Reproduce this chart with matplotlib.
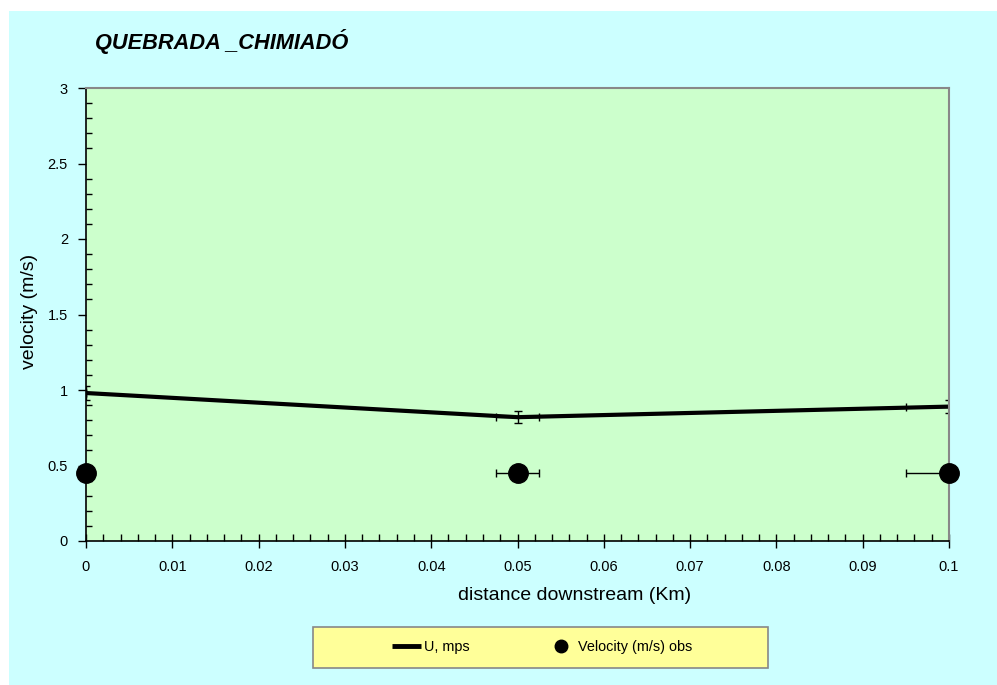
import matplotlib.pyplot as plt
from matplotlib.patches import Rectangle
from matplotlib.ticker import MultipleLocator

plt.rcParams['font.family'] = ['Liberation Sans', 'DejaVu Sans']

# model velocity along the reach
dist_model = [0.0, 0.05, 0.1]
u_model = [0.98, 0.82, 0.89]

# observed velocities
dist_obs = [0.0, 0.05, 0.1]
u_obs = [0.45, 0.45, 0.45]

# 5% error on distance and velocity
xerr_model = [0.05 * d for d in dist_model]
yerr_model = [0.05 * u for u in u_model]
xerr_obs = [0.05 * d for d in dist_obs]
yerr_obs = [0.05 * u for u in u_obs]

W, H = 997, 685
fig = plt.figure(figsize=(W / 100, H / 100), dpi=100)
fig.patch.set_facecolor('white')
fig.patches.append(Rectangle((9 / W, 0), 1, 1 - 11 / H, transform=fig.transFigure,
                             facecolor='#CCFFFF', edgecolor='none', zorder=-10))

ax = fig.add_axes([86 / W, 1 - 541 / H, (949 - 86) / W, (541 - 88) / H])
ax.set_facecolor('#CCFFCC')

ax.errorbar(dist_model, u_model, xerr=xerr_model, yerr=yerr_model, fmt='none',
            ecolor='black', elinewidth=1, capsize=3, capthick=1)
ax.plot(dist_model, u_model, color='black', linewidth=3, label='U, mps')
ax.errorbar(dist_obs, u_obs, xerr=xerr_obs, yerr=yerr_obs, fmt='none',
            ecolor='black', elinewidth=1, capsize=3, capthick=1)
ax.plot(dist_obs, u_obs, 'o', color='black', markersize=14, clip_on=False, zorder=5,
        label='Velocity (m/s) obs')

ax.set_xlim(0, 0.1)
ax.set_ylim(0, 3)
ax.xaxis.set_minor_locator(MultipleLocator(0.002))
ax.yaxis.set_minor_locator(MultipleLocator(0.1))
ax.set_xticks([i / 100 for i in range(11)])
ax.set_xticklabels(['0', '0.01', '0.02', '0.03', '0.04', '0.05', '0.06', '0.07', '0.08', '0.09', '0.1'])
ax.set_yticks([0, 0.5, 1, 1.5, 2, 2.5, 3])
ax.set_yticklabels(['0', '0.5', '1', '1.5', '2', '2.5', '3'])

ax.tick_params(axis='x', which='major', direction='inout', length=10, width=1, labelsize=10.5, pad=9)
ax.tick_params(axis='x', which='minor', direction='in', length=5, width=1)
ax.tick_params(axis='y', which='major', direction='out', length=6, width=1, labelsize=10.5, pad=7)
ax.tick_params(axis='y', which='minor', direction='in', length=4, width=1)

for side in ['left', 'bottom']:
    ax.spines[side].set_color('black')
    ax.spines[side].set_linewidth(1.2)
for side in ['top', 'right']:
    ax.spines[side].set_color('#888888')
    ax.spines[side].set_linewidth(1.5)

ax.set_xlabel('distance downstream (Km)', fontsize=14, va='center')
ax.xaxis.set_label_coords((575 - 86) / (949 - 86), -(596 - 541) / (541 - 88))
ax.set_ylabel('velocity (m/s)', fontsize=14, va='center')
ax.yaxis.set_label_coords(-(86 - 30) / (949 - 86), (541 - 311) / (541 - 88))

fig.text(95 / W, 1 - 42 / H, 'QUEBRADA _CHIMIADÓ', fontsize=15.7, fontweight='bold',
         fontstyle='italic', va='center', ha='left')

# legend box
fig.patches.append(Rectangle((313 / W, 1 - 668 / H), (768 - 313) / W, 41 / H,
                             transform=fig.transFigure, facecolor='#FFFF99',
                             edgecolor='#888888', linewidth=1.2, zorder=1))
leg = fig.legend(loc='center left', bbox_to_anchor=(385 / W, 1 - 647 / H), ncol=2,
                 fontsize=10.4, frameon=False, borderpad=0, handlelength=2.0,
                 columnspacing=5.3, handletextpad=0.2)
leg.legend_handles[0].set_linewidth(3.5)
leg.legend_handles[0].set_solid_capstyle('butt')
leg.legend_handles[1].set_markersize(9)

fig.savefig('out.png', dpi=100, facecolor=fig.get_facecolor())
